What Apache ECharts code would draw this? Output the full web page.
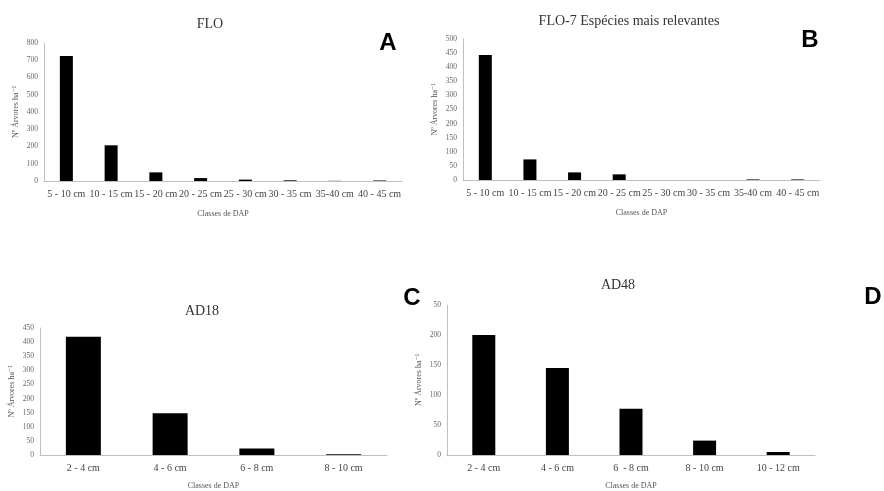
<!DOCTYPE html>
<html>
<head>
<meta charset="utf-8">
<script src="https://cdn.jsdelivr.net/npm/echarts@6/dist/echarts.min.js"></script>
<style>
  html, body { margin: 0; padding: 0; background: #fff; }
  #chart { width: 884px; height: 491px; }
</style>
</head>
<body>
<div id="chart"></div>
<script>
// classes de DAP
var classesFLO = ['5 - 10 cm', '10 - 15 cm', '15 - 20 cm', '20 - 25 cm', '25 - 30 cm', '30 - 35 cm', '35-40 cm', '40 - 45 cm'];
var classesAD18 = ['2 - 4 cm', '4 - 6 cm', '6 - 8 cm', '8 - 10 cm'];
var classesAD48 = ['2 - 4 cm', '4 - 6 cm', '6  - 8 cm', '8 - 10 cm', '10 - 12 cm'];

// Nº árvores por ha
var valoresFLO = [725, 207, 50, 17, 8, 4, 1, 3];
var valoresFLO7 = [443, 73, 27, 20, 0, 0, 2, 2];
var valoresAD18 = [419, 148, 23, 3];
var valoresAD48 = [200, 145, 77, 24, 5];

var titulos = ['FLO', 'FLO-7 Espécies mais relevantes', 'AD18', 'AD48'];

var serif = '"Liberation Serif", "DejaVu Serif", serif';
var cinza = '#bfbfbf';

function eixoX(i, dados) {
  return {
    type: 'category', gridIndex: i, data: dados,
    name: 'Classes de DAP', nameLocation: 'middle',
    nameGap: i < 2 ? 29 : 27,
    nameTextStyle: { fontFamily: serif, fontSize: 8, color: '#555' },
    axisLine: { lineStyle: { color: cinza, width: 1 } },
    axisTick: { show: false },
    axisLabel: { interval: 0, margin: 8, fontFamily: serif, fontSize: 10, color: '#444' }
  };
}

function eixoY(i, max, passo, fmt) {
  return {
    type: 'value', gridIndex: i, min: 0, max: max, interval: passo,
    name: 'Nº Árvores ha⁻¹', nameLocation: 'middle', nameGap: 24,
    nameTextStyle: { fontFamily: serif, fontSize: 8, color: '#555' },
    axisLine: { show: true, lineStyle: { color: cinza, width: 1 } },
    axisTick: { show: false },
    splitLine: { show: false },
    axisLabel: { margin: 6, fontFamily: serif, fontSize: 7.5, color: '#666', formatter: fmt }
  };
}

function barras(i, dados, largura) {
  return {
    type: 'bar', xAxisIndex: i, yAxisIndex: i, data: dados,
    barWidth: largura,
    itemStyle: { color: '#000' },
    silent: true
  };
}

var letras = [['A', 388, 43], ['B', 810, 40], ['C', 412, 298], ['D', 873, 297]];

var option = {
  animation: false,
  backgroundColor: '#fff',
  title: [
    { text: titulos[0], left: 205, top: 12, textAlign: 'center' },
    { text: titulos[1], left: 624, top: 9, textAlign: 'center' },
    { text: titulos[2], left: 197, top: 299, textAlign: 'center' },
    { text: titulos[3], left: 613, top: 273, textAlign: 'center' }
  ].map(function (t) {
    t.textStyle = { fontFamily: serif, fontSize: 14, fontWeight: 'normal', color: '#333' };
    return t;
  }),
  grid: [
    { left: 44, right: 482, top: 43, bottom: 310 },
    { left: 463, right: 64, top: 39, bottom: 311 },
    { left: 40, right: 497, top: 328, bottom: 31 },
    { left: 447, right: 69, top: 305, bottom: 36 }
  ],
  xAxis: [eixoX(0, classesFLO), eixoX(1, classesFLO), eixoX(2, classesAD18), eixoX(3, classesAD48)],
  yAxis: [
    eixoY(0, 800, 100),
    eixoY(1, 500, 50),
    eixoY(2, 450, 50),
    // no original o "2" do rótulo 250 aparece cortado
    eixoY(3, 250, 50, function (v) { return v === 250 ? '50' : String(v); })
  ],
  series: [
    barras(0, valoresFLO, 13),
    barras(1, valoresFLO7, 13),
    barras(2, valoresAD18, 35),
    barras(3, valoresAD48, 23)
  ],
  graphic: letras.map(function (l) {
    return {
      type: 'text', x: l[1], y: l[2],
      style: {
        text: l[0], fill: '#000', align: 'center', verticalAlign: 'middle',
        font: 'bold 24px "Liberation Sans", Arial, sans-serif'
      }
    };
  })
};

var chart = echarts.init(document.getElementById('chart'), null, { renderer: 'canvas' });
chart.setOption(option);
</script>
</body>
</html>
